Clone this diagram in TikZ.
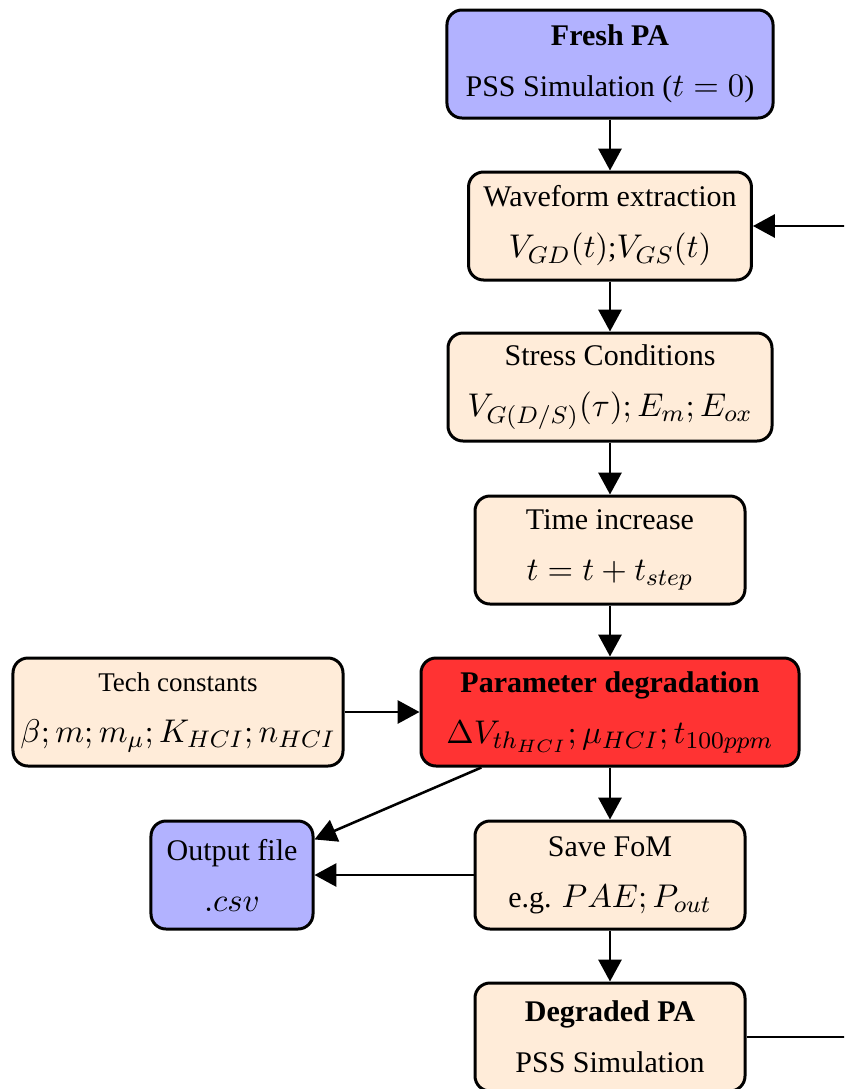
\documentclass[tikz,border=0pt]{standalone}
\usepackage[no-math]{fontspec}
\setmainfont{Liberation Serif}
\DeclareMathSizes{10}{10.95}{8}{6}
\DeclareMathSizes{9}{10}{7.5}{5.5}
\usetikzlibrary{arrows.meta}
\definecolor{paorange}{RGB}{255,236,217}
\definecolor{pablue}{RGB}{178,178,255}
\definecolor{pared}{RGB}{255,51,51}
\begin{document}
\begin{tikzpicture}[x=0.33333pt,y=-0.33333pt,
  box/.style={draw=black, line width=1pt, rounded corners=5pt, align=center,
    minimum height=36pt, inner sep=2pt, fill=paorange},
  conn/.style={line width=0.85pt, -{Triangle[length=7.3pt,width=7.7pt]}},
  plain/.style={line width=0.85pt}]
\clip (0,0) rectangle (844,1089);
\node[box, fill=pablue, minimum width=108.7pt] (fresh) at (610,64)
  {\textbf{Fresh PA}\\[5pt]PSS Simulation ($t=0$)};
\node[box, minimum width=94.3pt] (wave) at (610,226)
  {Waveform extraction\\[5pt]$V_{GD}(t)$;$V_{GS}(t)$};
\node[box, minimum width=108pt] (stress) at (610,387)
  {Stress Conditions\\[5pt]$V_{G(D/S)}(\tau); E_m; E_{ox}$};
\node[box, minimum width=90pt] (time) at (610,550)
  {Time increase\\[5pt]$t = t + t_{step}$};
\node[box, fill=pared, minimum width=126pt] (param) at (610,712)
  {\textbf{Parameter degradation}\\[5pt]$\Delta V_{th_{HCI}}; \mu_{HCI}; t_{100ppm}$};
\node[box, minimum width=110pt] (tech) at (178,712)
  {\small Tech constants\\[5pt]$\beta; m; m_\mu; K_{HCI}; n_{HCI}$};
\node[box, fill=pablue, minimum width=54pt] (output) at (232,875)
  {Output file\\[5pt]$.csv$};
\node[box, minimum width=90pt] (save) at (610,875)
  {Save FoM\\[5pt]e.g. $PAE; P_{out}$};
\node[box, minimum width=90pt] (deg) at (610,1037)
  {\textbf{Degraded PA}\\[5pt]PSS Simulation};
\coordinate (fbr) at (890,1037);
\coordinate (fbt) at (890,226);
\draw[conn] (fresh.south) -- (wave.north);
\draw[conn] (wave.south) -- (stress.north);
\draw[conn] (stress.south) -- (time.north);
\draw[conn] (time.south) -- (param.north);
\draw[conn] (param.south) -- (save.north);
\draw[conn] (save.south) -- (deg.north);
\draw[conn] (tech.east) -- (param.west);
\draw[conn] (param) -- (output);
\draw[conn] (save.west) -- (output.east);
\draw[conn] (deg.east) -- (fbr) -- (fbt) -- (wave.east);
\end{tikzpicture}
\end{document}
